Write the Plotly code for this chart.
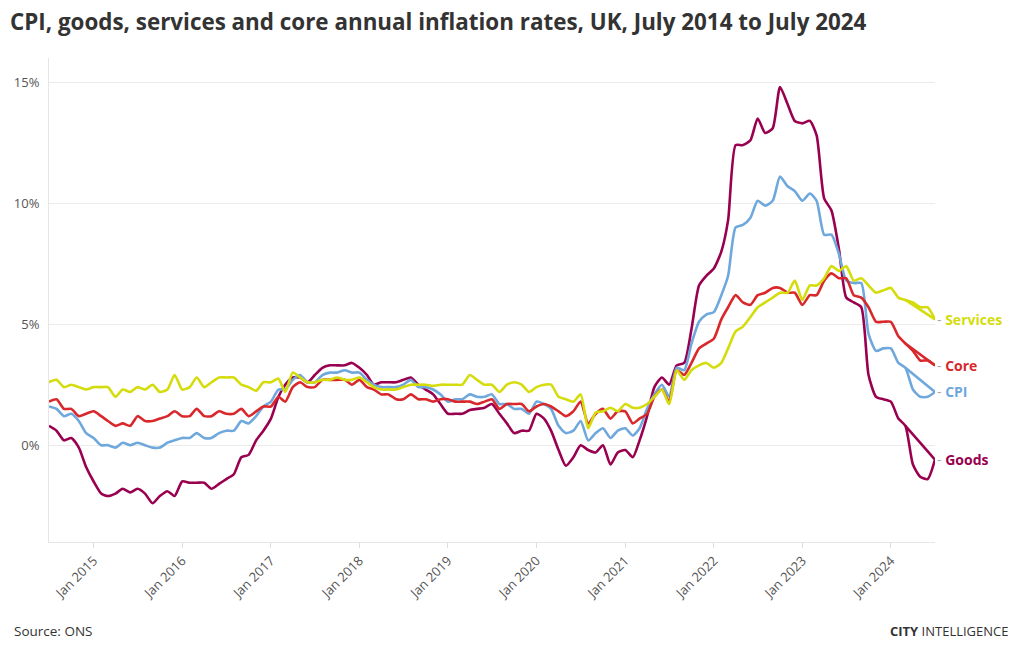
import pandas as pd
import plotly.graph_objects as go

# Monthly dates, July 2014 .. July 2024 (121 months)
months = pd.date_range("2014-07-01", "2024-07-01", freq="MS")

cpi = [
    1.6, 1.5, 1.2, 1.3, 1.0, 0.5,
    0.3, 0.0, 0.0, -0.1, 0.1, 0.0, 0.1, 0.0, -0.1, -0.1, 0.1, 0.2,
    0.3, 0.3, 0.5, 0.3, 0.3, 0.5, 0.6, 0.6, 1.0, 0.9, 1.2, 1.6,
    1.8, 2.3, 2.3, 2.7, 2.9, 2.6, 2.6, 2.9, 3.0, 3.0, 3.1, 3.0,
    3.0, 2.7, 2.5, 2.4, 2.4, 2.4, 2.5, 2.7, 2.4, 2.4, 2.3, 2.1,
    1.8, 1.9, 1.9, 2.1, 2.0, 2.0, 2.1, 1.7, 1.7, 1.5, 1.5, 1.3,
    1.8, 1.7, 1.5, 0.8, 0.5, 0.6, 1.0, 0.2, 0.5, 0.7, 0.3, 0.6,
    0.7, 0.4, 0.7, 1.5, 2.1, 2.5, 2.0, 3.2, 3.1, 4.2, 5.1, 5.4,
    5.5, 6.2, 7.0, 9.0, 9.1, 9.4, 10.1, 9.9, 10.1, 11.1, 10.7, 10.5,
    10.1, 10.4, 10.1, 8.7, 8.7, 7.9, 6.8, 6.7, 6.7, 4.6, 3.9, 4.0,
    4.0, 3.4, 3.2, 2.3, 2.0, 2.0, 2.2,
]

core = [
    1.8, 1.9, 1.5, 1.5, 1.2, 1.3,
    1.4, 1.2, 1.0, 0.8, 0.9, 0.8, 1.2, 1.0, 1.0, 1.1, 1.2, 1.4,
    1.2, 1.2, 1.5, 1.2, 1.2, 1.4, 1.3, 1.3, 1.5, 1.2, 1.4, 1.6,
    1.6, 2.0, 1.8, 2.4, 2.6, 2.4, 2.4, 2.7, 2.7, 2.7, 2.7, 2.5,
    2.7, 2.4, 2.3, 2.1, 2.1, 1.9, 1.9, 2.1, 1.9, 1.9, 1.8, 1.9,
    1.9, 1.8, 1.8, 1.8, 1.7, 1.8, 1.9, 1.5, 1.7, 1.7, 1.7, 1.4,
    1.6, 1.7, 1.6, 1.4, 1.2, 1.4, 1.8, 0.9, 1.3, 1.5, 1.1, 1.4,
    1.4, 0.9, 1.1, 1.3, 2.0, 2.3, 1.8, 3.1, 2.9, 3.4, 4.0, 4.2,
    4.4, 5.2, 5.7, 6.2, 5.9, 5.8, 6.2, 6.3, 6.5, 6.5, 6.3, 6.3,
    5.8, 6.2, 6.2, 6.8, 7.1, 6.9, 6.9, 6.2, 6.1, 5.7, 5.1, 5.1,
    5.1, 4.5, 4.2, 3.9, 3.5, 3.5, 3.3,
]

goods = [
    0.8, 0.6, 0.2, 0.3, -0.1, -0.9,
    -1.5, -2.0, -2.1, -2.0, -1.8, -1.95, -1.8, -2.0, -2.4, -2.1, -1.9, -2.1,
    -1.5, -1.55, -1.55, -1.55, -1.8, -1.6, -1.4, -1.2, -0.5, -0.4, 0.2, 0.6,
    1.1, 2.0, 2.5, 2.8, 2.8, 2.6, 2.9, 3.2, 3.3, 3.3, 3.3, 3.4,
    3.2, 2.9, 2.5, 2.6, 2.6, 2.6, 2.7, 2.8, 2.5, 2.3, 2.1, 1.7,
    1.3, 1.3, 1.3, 1.45, 1.5, 1.55, 1.7, 1.3, 0.9, 0.5, 0.6, 0.6,
    1.3, 1.1, 0.6, -0.2, -0.85, -0.5, 0.0, -0.2, -0.3, 0.0, -0.8, -0.3,
    -0.2, -0.5, 0.2, 1.2, 2.4, 2.8, 2.5, 3.3, 3.4, 4.8, 6.6, 7.0,
    7.3, 8.0, 9.3, 12.4, 12.4, 12.6, 13.5, 12.9, 13.1, 14.8, 14.1, 13.4,
    13.3, 13.4, 12.8, 10.2, 9.7, 8.1, 6.1, 5.9, 5.7, 2.9, 2.0, 1.9,
    1.8, 1.1, 0.8, -0.8, -1.3, -1.4, -0.6,
]

services = [
    2.6, 2.7, 2.4, 2.5, 2.4, 2.3,
    2.4, 2.4, 2.4, 2.0, 2.3, 2.2, 2.4, 2.3, 2.5, 2.2, 2.3, 2.9,
    2.3, 2.4, 2.8, 2.4, 2.6, 2.8, 2.8, 2.8, 2.5, 2.4, 2.25, 2.6,
    2.6, 2.75, 2.2, 3.0, 2.8, 2.6, 2.6, 2.7, 2.7, 2.8, 2.7, 2.7,
    2.8, 2.6, 2.4, 2.3, 2.3, 2.3, 2.4, 2.5, 2.5, 2.5, 2.45, 2.5,
    2.5, 2.5, 2.5, 2.9, 2.7, 2.5, 2.5, 2.2, 2.5, 2.6, 2.5, 2.2,
    2.4, 2.5, 2.5, 2.0, 1.9, 1.8, 2.1, 0.7, 1.35, 1.4, 1.55, 1.4,
    1.7, 1.55, 1.55, 1.7, 2.0, 2.3, 1.7, 3.1, 2.7, 3.1, 3.3, 3.4,
    3.2, 3.4, 4.0, 4.7, 4.9, 5.3, 5.7, 5.9, 6.1, 6.3, 6.3, 6.8,
    6.0, 6.6, 6.6, 6.9, 7.4, 7.2, 7.4, 6.8, 6.9, 6.6, 6.3, 6.4,
    6.5, 6.1, 6.0, 5.9, 5.7, 5.7, 5.2,
]

series_names = ["Services", "Core", "CPI", "Goods"]
series_values = [services, core, cpi, goods]
series_colors = ["#d5dc0c", "#d8282c", "#6fa8dc", "#99004f"]

y_tick_values = [0, 5, 10, 15]
y_tick_labels = ["0%", "5%", "10%", "15%"]

# the source graphic also joins March 2024 straight to July 2024
CHORD_FROM = 116
CHORD_TO = 120

# plot-area geometry (pixels) used to place footer texts in paper coords
W, H = 1020, 650
ML, MR, MT, MB = 49, 85, 58, 108
PW, PH = W - ML - MR, H - MT - MB


def px_to_paper(px, py):
    return (px - ML) / PW, (H - MB - py) / PH


fig = go.Figure()
for name, vals, col in zip(series_names[::-1], series_values[::-1], series_colors[::-1]):
    fig.add_trace(go.Scatter(
        x=months, y=vals, mode="lines", name=name,
        line=dict(color=col, width=2.6, shape="spline", smoothing=0.6),
        hoverinfo="x+y", showlegend=False,
    ))
    fig.add_trace(go.Scatter(
        x=[months[CHORD_FROM], months[CHORD_TO]],
        y=[vals[CHORD_FROM], vals[CHORD_TO]],
        mode="lines", line=dict(color=col, width=2.6),
        hoverinfo="skip", showlegend=False,
    ))

for name, vals, col in zip(series_names, series_values, series_colors):
    fig.add_annotation(
        x=months[-1], y=vals[-1], xref="x", yref="y",
        text=f"<span style='color:#aaaaaa'>-</span> <b>{name}</b>",
        showarrow=False, xanchor="left", yanchor="middle", xshift=0,
        font=dict(family="Open Sans", size=14, color=col),
    )

sx, sy = px_to_paper(12, 631)
fig.add_annotation(
    x=sx, y=sy, xref="paper", yref="paper", text="Source: ONS",
    showarrow=False, xanchor="left", yanchor="middle",
    font=dict(family="Open Sans", size=13.5, color="#333333"),
)
cx, cy = px_to_paper(1011, 631)
fig.add_annotation(
    x=cx, y=cy, xref="paper", yref="paper",
    text="<b>CITY</b> INTELLIGENCE", showarrow=False,
    xanchor="right", yanchor="middle",
    font=dict(family="Open Sans", size=13, color="#333333"),
)

fig.update_layout(
    width=W, height=H,
    paper_bgcolor="white", plot_bgcolor="white",
    margin=dict(l=ML, r=MR, t=MT, b=MB),
    title=dict(
        text="CPI, goods, services and core annual inflation rates, UK, July 2014 to July 2024",
        x=10 / W, xanchor="left", y=1 - 22 / H, yanchor="middle",
        font=dict(family="Open Sans", size=22.4, color="#333333", weight=700),
    ),
    font=dict(family="Open Sans", color="#555555"),
)

fig.update_xaxes(
    range=[months[0], months[-1]],
    tickformat="%b %Y", dtick="M12", tick0="2015-01-01",
    tickangle=-45, ticks="outside", ticklen=5, tickcolor="#dddddd",
    showline=True, linecolor="#e6e6e6", linewidth=1,
    showgrid=False, zeroline=False,
    tickfont=dict(family="Open Sans", size=13, color="#555555"),
)
fig.update_yaxes(
    range=[-4, 16], tickvals=y_tick_values, ticktext=y_tick_labels,
    showgrid=True, gridcolor="#ebebeb", gridwidth=1,
    zeroline=False, showline=True, linecolor="#e6e6e6", linewidth=1,
    ticks="outside", ticklen=6, tickcolor="rgba(0,0,0,0)",
    tickfont=dict(family="Open Sans", size=13, color="#555555"),
)

fig.write_html(
    "out.html",
    config={"displayModeBar": False},
    post_script="document.body.style.margin='0';",
)
